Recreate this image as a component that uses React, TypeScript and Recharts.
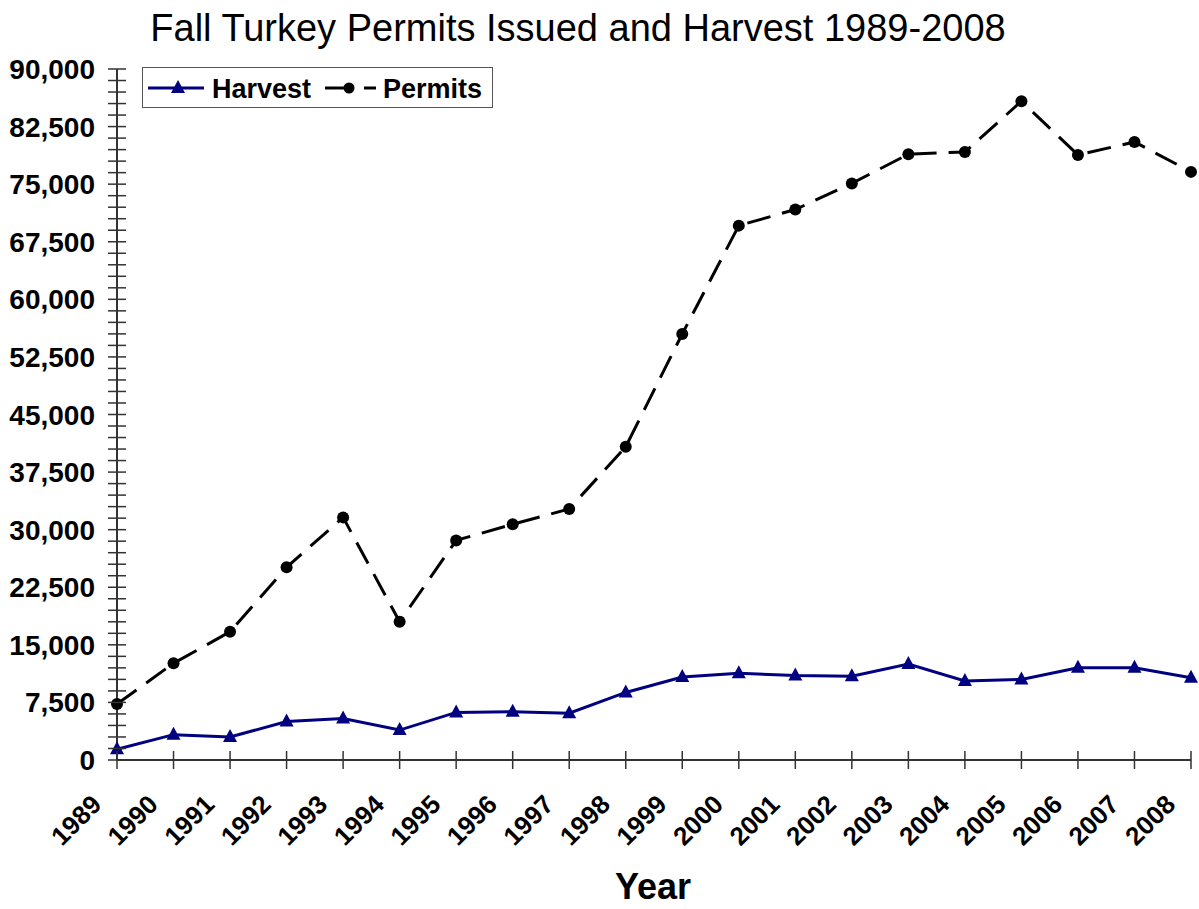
import React from "react";
import { LineChart, Line, XAxis, YAxis } from "recharts";

const years = [
  "1989", "1990", "1991", "1992", "1993", "1994", "1995", "1996", "1997", "1998",
  "1999", "2000", "2001", "2002", "2003", "2004", "2005", "2006", "2007", "2008",
];

const harvest = [
  1400, 3300, 3000, 5000, 5400, 3900, 6200, 6300, 6100, 8800,
  10800, 11300, 11000, 10900, 12500, 10300, 10500, 12000, 12000, 10700,
];

const permits = [
  7300, 12600, 16700, 25100, 31600, 18000, 28600, 30700, 32700, 40800,
  55500, 69600, 71700, 75100, 78900, 79200, 85800, 78800, 80500, 76600,
];

const yMajorTicks = [0, 7500, 15000, 22500, 30000, 37500, 45000, 52500, 60000, 67500, 75000, 82500, 90000];
const yMinorStep = 1500;

const FONT = "'Liberation Sans', Arial, Helvetica, sans-serif";
const HARVEST_COLOR = "#000080";
const PERMITS_COLOR = "#000000";
const AXIS_COLOR = "#333333";

const data = years.map((year, i) => ({
  year,
  harvest: harvest[i],
  permits: permits[i],
}));

// every minor tick position between major ticks
const yAllTicks: number[] = [];
for (let v = 0; v <= yMajorTicks[yMajorTicks.length - 1]; v += yMinorStep) {
  yAllTicks.push(v);
}

const YTick = (props: any) => {
  const { x, y, payload } = props;
  const isMajor = yMajorTicks.includes(payload.value);
  return (
    <g>
      <line x1={x - 9} x2={x + 9} y1={y} y2={y} stroke={AXIS_COLOR} strokeWidth={1.5} />
      {isMajor && (
        <text
          x={x - 22}
          y={y}
          dy={10}
          textAnchor="end"
          fontFamily={FONT}
          fontWeight="bold"
          fontSize={28}
          fill="#000"
        >
          {payload.value.toLocaleString("en-US")}
        </text>
      )}
    </g>
  );
};

const XTick = (props: any) => {
  const { x, y, payload } = props;
  const tx = x - 14;
  const ty = y + 46;
  return (
    <g>
      <line x1={x} x2={x} y1={y - 9} y2={y + 9} stroke={AXIS_COLOR} strokeWidth={1.5} />
      <text
        x={tx}
        y={ty}
        textAnchor="end"
        transform={`rotate(-45, ${tx}, ${ty})`}
        fontFamily={FONT}
        fontWeight="bold"
        fontSize={26}
        fill="#000"
      >
        {payload.value}
      </text>
    </g>
  );
};

const TriangleDot = (props: any) => {
  const { cx, cy } = props;
  if (cx == null || cy == null) return null;
  return (
    <polygon
      points={`${cx},${cy - 8} ${cx - 7},${cy + 5} ${cx + 7},${cy + 5}`}
      fill={HARVEST_COLOR}
    />
  );
};

const CircleDot = (props: any) => {
  const { cx, cy } = props;
  if (cx == null || cy == null) return null;
  return <circle cx={cx} cy={cy} r={6} fill={PERMITS_COLOR} />;
};

function ChartLegend() {
  return (
    <div
      style={{
        position: "absolute",
        left: 142,
        top: 67,
        width: 351,
        height: 41,
        border: "1.5px solid #555",
        background: "#fff",
        boxSizing: "border-box",
      }}
    >
      <svg width={349} height={39} style={{ position: "absolute", left: 0, top: 0 }}>
        <line x1={5} x2={61} y1={20} y2={20} stroke={HARVEST_COLOR} strokeWidth={3} />
        <polygon points="35,12 28,25 42,25" fill={HARVEST_COLOR} />
        <text x={69} y={30} fontFamily={FONT} fontWeight="bold" fontSize={27} fill="#000">
          Harvest
        </text>
        <line x1={182} x2={201} y1={20} y2={20} stroke={PERMITS_COLOR} strokeWidth={3} />
        <circle cx={206} cy={20} r={5.5} fill={PERMITS_COLOR} />
        <line x1={221} x2={233} y1={20} y2={20} stroke={PERMITS_COLOR} strokeWidth={3} />
        <text x={240} y={30} fontFamily={FONT} fontWeight="bold" fontSize={27} fill="#000">
          Permits
        </text>
      </svg>
    </div>
  );
}

export default function App() {
  return (
    <div
      style={{
        position: "absolute",
        left: 0,
        top: 0,
        width: 1199,
        height: 909,
        background: "#fff",
        fontFamily: FONT,
      }}
    >
      <div
        style={{
          position: "absolute",
          left: 0,
          top: 7,
          width: 1156,
          textAlign: "center",
          fontSize: 38,
          lineHeight: "42px",
          color: "#000",
        }}
      >
        Fall Turkey Permits Issued and Harvest 1989-2008
      </div>

      <LineChart
        width={1199}
        height={909}
        data={data}
        margin={{ top: 69, right: 8, bottom: 0, left: 0 }}
      >
        <XAxis
          dataKey="year"
          height={149}
          interval={0}
          tickLine={false}
          tickSize={0}
          tickMargin={0}
          tick={<XTick />}
          axisLine={{ stroke: AXIS_COLOR, strokeWidth: 2 }}
          padding={{ left: 0, right: 0 }}
        />
        <YAxis
          width={117}
          domain={[0, 90000]}
          ticks={yAllTicks}
          interval={0}
          tickLine={false}
          tickSize={0}
          tickMargin={0}
          tick={<YTick />}
          axisLine={{ stroke: AXIS_COLOR, strokeWidth: 2 }}
        />
        <Line
          dataKey="harvest"
          name="Harvest"
          stroke={HARVEST_COLOR}
          strokeWidth={3}
          dot={<TriangleDot />}
          activeDot={false}
          isAnimationActive={false}
        />
        <Line
          dataKey="permits"
          name="Permits"
          stroke={PERMITS_COLOR}
          strokeWidth={3}
          strokeDasharray="24 12"
          dot={<CircleDot />}
          activeDot={false}
          isAnimationActive={false}
        />
      </LineChart>

      <div
        style={{
          position: "absolute",
          left: 0,
          top: 866,
          width: 1306,
          textAlign: "center",
          fontSize: 36,
          fontWeight: "bold",
          lineHeight: "42px",
          color: "#000",
        }}
      >
        Year
      </div>

      <ChartLegend />
    </div>
  );
}
